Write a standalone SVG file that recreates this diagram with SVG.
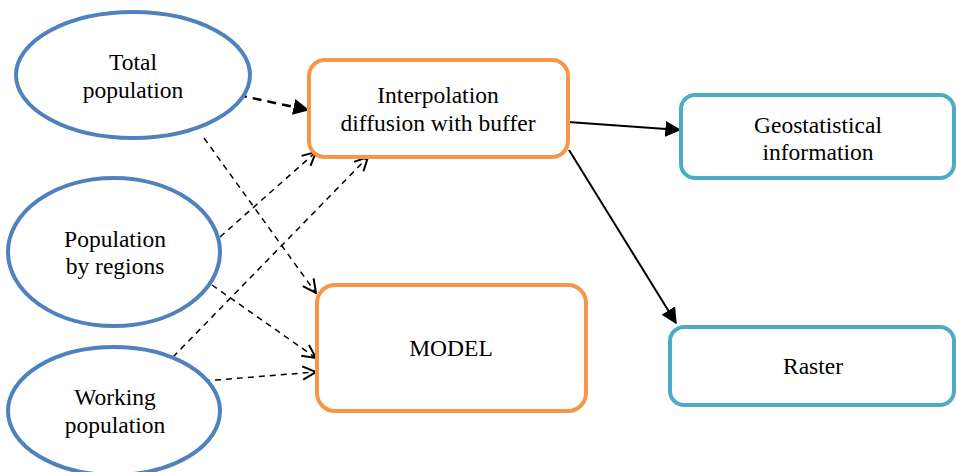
<svg xmlns="http://www.w3.org/2000/svg" width="956" height="472" viewBox="0 0 956 472">
<style>
.ell{fill:#fff;stroke:#4F81BD;stroke-width:4}
.org{fill:#fff;stroke:#F79646;stroke-width:4}
.blu{fill:#fff;stroke:#4BACC6;stroke-width:4}
text{font-family:'Liberation Serif','Times New Roman',serif;font-size:23.5px;fill:#000;text-anchor:middle}
.d{stroke:#000;stroke-width:1.5;stroke-dasharray:6,5;fill:none}
.dt{stroke:#000;stroke-width:2.5;stroke-dasharray:9,6;fill:none}
.s{stroke:#000;stroke-width:2;fill:none}
</style>
<defs>
<marker id="open" viewBox="0 0 12 12" refX="11" refY="6" markerWidth="16" markerHeight="16" markerUnits="userSpaceOnUse" orient="auto">
<path d="M1,1 L11,6 L1,11" fill="none" stroke="#000" stroke-width="1.5"/>
</marker>
<marker id="fill" viewBox="0 0 12 12" refX="11" refY="6" markerWidth="16" markerHeight="16" markerUnits="userSpaceOnUse" orient="auto">
<path d="M0,0 L12,6 L0,12 Z" fill="#000"/>
</marker>
</defs>
<g id="connectors">
<line class="dt" x1="238" y1="95" x2="308" y2="110" marker-end="url(#fill)"/>
<line class="d" x1="204" y1="138" x2="316" y2="293" marker-end="url(#open)"/>
<line class="d" x1="220" y1="237" x2="316" y2="152" marker-end="url(#open)"/>
<line class="d" x1="212" y1="285" x2="316" y2="358" marker-end="url(#open)"/>
<line class="d" x1="173" y1="357" x2="368" y2="157" marker-end="url(#open)"/>
<line class="d" x1="204" y1="381" x2="316" y2="372" marker-end="url(#open)"/>
<line class="s" x1="568" y1="122" x2="680" y2="130" marker-end="url(#fill)"/>
<line class="s" x1="569" y1="150" x2="676" y2="323" marker-end="url(#fill)"/>
</g>
<g id="total">
<ellipse class="ell" cx="133" cy="75" rx="117" ry="63"/>
<text x="133" y="70">Total</text>
<text x="133" y="98">population</text>
</g>
<g id="regions">
<ellipse class="ell" cx="114" cy="252" rx="106" ry="74"/>
<text x="115" y="247">Population</text>
<text x="115" y="274">by regions</text>
</g>
<g id="working">
<ellipse class="ell" cx="114" cy="411" rx="106" ry="64"/>
<text x="115" y="405">Working</text>
<text x="115" y="433">population</text>
</g>
<g id="interp">
<rect class="org" x="309" y="60" width="259" height="97" rx="16"/>
<text x="438" y="103">Interpolation</text>
<text x="438" y="131">diffusion with buffer</text>
</g>
<g id="model">
<rect class="org" x="317" y="285" width="269" height="126" rx="18"/>
<text x="451" y="356">MODEL</text>
</g>
<g id="geo">
<rect class="blu" x="681" y="95" width="273" height="83" rx="14"/>
<text x="818" y="133">Geostatistical</text>
<text x="818" y="160">information</text>
</g>
<g id="raster">
<rect class="blu" x="670" y="327" width="284" height="78" rx="14"/>
<text x="813" y="374">Raster</text>
</g>
</svg>
